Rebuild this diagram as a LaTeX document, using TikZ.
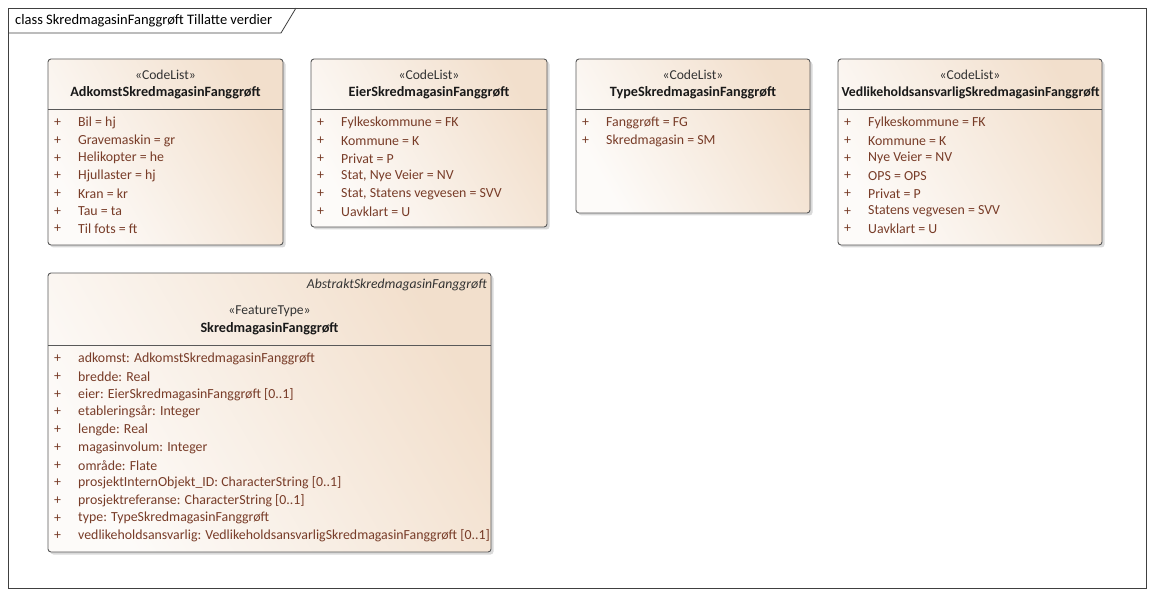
\documentclass[tikz,border=0pt]{standalone}
\usepackage{fontspec}
\setmainfont{Carlito}
\begin{document}
\begin{tikzpicture}[x=1pt,y=-1pt,
  frameline/.style={draw=black!75, line width=0.8pt},
  boxshape/.style={draw=black!65, line width=0.9pt, rounded corners=3pt,
     shading=axis, left color=white!97!brown, right color={rgb,255:red,242;green,223;blue,204}, shading angle=120},
  boxshadow/.style={fill=black!15, rounded corners=3pt},
  sepline/.style={draw=black!65, line width=0.9pt},
  stereo/.style={font=\fontsize{13.6}{15}\selectfont, text=black!80, inner sep=0pt},
  cname/.style={font=\fontsize{14.2}{16}\selectfont\bfseries, text=black!90, inner sep=0pt},
  attr/.style={font=\fontsize{13.85}{16}\selectfont, text={rgb,255:red,120;green,60;blue,40}, inner sep=0pt, anchor=west},
  titletxt/.style={font=\fontsize{14.5}{16}\selectfont, text=black, inner sep=0pt, anchor=west}
]
\useasboundingbox (0,0) rectangle (1154,596);
% frame
\draw[frameline] (8,8) rectangle (1146,588);
\draw[frameline] (8,33) -- (281,33) -- (296,8);
\node[titletxt] (title) at (15,20.5) {class SkredmagasinFanggrøft Tillatte verdier};

% generic box macro: #1 name, #2 x1, #3 y1, #4 x2, #5 y2, #6 sep y
\newcommand{\umlbox}[6]{%
  \fill[boxshadow] (#2+2.5,#3+2.5) rectangle (#4+2.5,#5+2.5);
  \path[boxshape] (#2,#3) rectangle (#4,#5);
  \coordinate (#1-nw) at (#2,#3);
  \coordinate (#1-se) at (#4,#5);
  \draw[sepline] (#2,#6) -- (#4,#6);
}
\newcommand{\plusattr}[4]{% #1 name, #2 x1, #3 y, #4 text
  \node[attr] (#1p) at (#2+6,#3) {+};
  \node[attr] (#1) at (#2+30,#3) {#4};
}

% Box 1
\umlbox{adk}{48}{59}{283}{245}{109}
\node[stereo] (adks) at (165.5,75) {«CodeList»};
\node[cname] (adkn) at (165.5,93) {AdkomstSkredmagasinFanggrøft};
\plusattr{adka1}{48}{123}{Bil = hj}
\plusattr{adka2}{48}{140.7}{Gravemaskin = gr}
\plusattr{adka3}{48}{158.3}{Helikopter = he}
\plusattr{adka4}{48}{176}{Hjullaster = hj}
\plusattr{adka5}{48}{193.7}{Kran = kr}
\plusattr{adka6}{48}{211.3}{Tau = ta}
\plusattr{adka7}{48}{229}{Til fots = ft}

% Box 2
\umlbox{eier}{311}{59}{547}{227}{109}
\node[stereo] (eiers) at (429,75) {«CodeList»};
\node[cname] (eiern) at (429,93) {EierSkredmagasinFanggrøft};
\plusattr{eiera1}{311}{123}{Fylkeskommune = FK}
\plusattr{eiera2}{311}{140.7}{Kommune = K}
\plusattr{eiera3}{311}{158.3}{Privat = P}
\plusattr{eiera4}{311}{176}{Stat, Nye Veier = NV}
\plusattr{eiera5}{311}{193.7}{Stat, Statens vegvesen = SVV}
\plusattr{eiera6}{311}{211.3}{Uavklart = U}

% Box 3
\umlbox{type}{576}{59}{810}{213}{109}
\node[stereo] (types) at (693,75) {«CodeList»};
\node[cname] (typen) at (693,93) {TypeSkredmagasinFanggrøft};
\plusattr{typea1}{576}{123}{Fanggrøft = FG}
\plusattr{typea2}{576}{140.7}{Skredmagasin = SM}

% Box 4
\umlbox{ved}{838}{59}{1102}{245}{109}
\node[stereo] (veds) at (970,75) {«CodeList»};
\node[cname] (vedn) at (970.5,93) {\resizebox{258pt}{!}{VedlikeholdsansvarligSkredmagasinFanggrøft}};
\plusattr{veda1}{838}{123}{Fylkeskommune = FK}
\plusattr{veda2}{838}{140.7}{Kommune = K}
\plusattr{veda3}{838}{158.3}{Nye Veier = NV}
\plusattr{veda4}{838}{176}{OPS = OPS}
\plusattr{veda5}{838}{193.7}{Privat = P}
\plusattr{veda6}{838}{211.3}{Statens vegvesen = SVV}
\plusattr{veda7}{838}{229}{Uavklart = U}

% Box 5
\umlbox{skr}{48}{273}{491}{552}{345}
\node[stereo, anchor=east, font=\fontsize{13.7}{15}\selectfont\itshape] (skrsup) at (487,285) {AbstraktSkredmagasinFanggrøft};
\node[stereo] (skrs) at (269.5,311) {«FeatureType»};
\node[cname] (skrn) at (269.5,329) {SkredmagasinFanggrøft};
\plusattr{skra1}{48}{359}{adkomst: AdkomstSkredmagasinFanggrøft}
\plusattr{skra2}{48}{376.7}{bredde: Real}
\plusattr{skra3}{48}{394.4}{eier: EierSkredmagasinFanggrøft [0..1]}
\plusattr{skra4}{48}{412.1}{etableringsår: Integer}
\plusattr{skra5}{48}{429.8}{lengde: Real}
\plusattr{skra6}{48}{447.5}{magasinvolum: Integer}
\plusattr{skra7}{48}{465.2}{område: Flate}
\plusattr{skra8}{48}{482.9}{prosjektInternObjekt\_ID: CharacterString [0..1]}
\plusattr{skra9}{48}{500.6}{prosjektreferanse: CharacterString [0..1]}
\plusattr{skra10}{48}{518.3}{type: TypeSkredmagasinFanggrøft}
\plusattr{skra11}{48}{536}{vedlikeholdsansvarlig: VedlikeholdsansvarligSkredmagasinFanggrøft [0..1]}
\end{tikzpicture}
\end{document}
